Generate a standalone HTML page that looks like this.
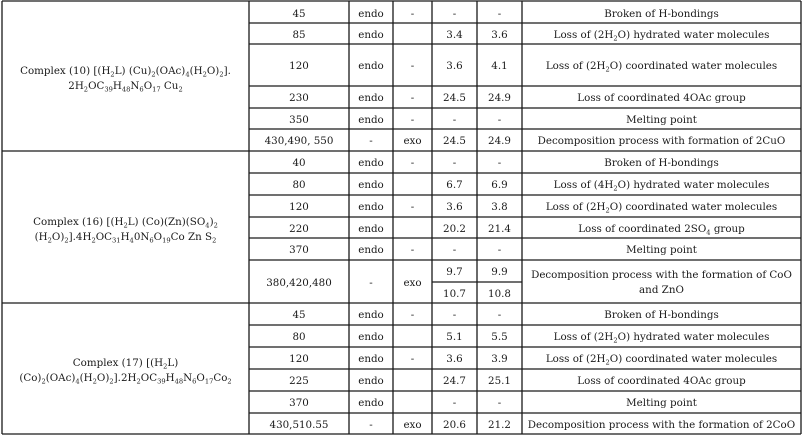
<!DOCTYPE html>
<html>
<head>
<meta charset="utf-8">
<style>
  html,body{margin:0;padding:0;background:#fff;}
  #wrap{position:relative;width:803px;height:438px;overflow:hidden;background:#fff;
    font-family:"DejaVu Serif","Liberation Serif",serif;font-size:10.3px;color:#1a1a1a;}
  .c{position:absolute;display:flex;align-items:center;justify-content:center;text-align:center;line-height:15px;white-space:nowrap;}
  .c > span{display:block;position:relative;top:1px;}
  sub{font-size:65%;vertical-align:-0.35em;line-height:0;}
  svg{position:absolute;left:0;top:0;}
</style>
</head>
<body>
<div id="wrap">
<svg width="803" height="438" viewBox="0 0 803 438">
  <g stroke="#1a1a1a" stroke-width="1.3" fill="none">
    <line x1="2" y1="1" x2="801" y2="1"/>
    <line x1="2" y1="434" x2="801" y2="434"/>
    <line x1="2" y1="1" x2="2" y2="434"/>
    <line x1="801" y1="1" x2="801" y2="434"/>
    <line x1="249" y1="1" x2="249" y2="434"/>
    <line x1="349" y1="1" x2="349" y2="434"/>
    <line x1="393" y1="1" x2="393" y2="434"/>
    <line x1="432" y1="1" x2="432" y2="434"/>
    <line x1="477" y1="1" x2="477" y2="434"/>
    <line x1="522" y1="1" x2="522" y2="434"/>
    <line x1="2" y1="151" x2="801" y2="151"/>
    <line x1="2" y1="303" x2="801" y2="303"/>
    <line x1="249" y1="23" x2="801" y2="23"/>
    <line x1="249" y1="44" x2="801" y2="44"/>
    <line x1="249" y1="86" x2="801" y2="86"/>
    <line x1="249" y1="108" x2="801" y2="108"/>
    <line x1="249" y1="129" x2="801" y2="129"/>
    <line x1="249" y1="173" x2="801" y2="173"/>
    <line x1="249" y1="195" x2="801" y2="195"/>
    <line x1="249" y1="217" x2="801" y2="217"/>
    <line x1="249" y1="238" x2="801" y2="238"/>
    <line x1="249" y1="260" x2="801" y2="260"/>
    <line x1="432" y1="282" x2="522" y2="282"/>
    <line x1="249" y1="325" x2="801" y2="325"/>
    <line x1="249" y1="347" x2="801" y2="347"/>
    <line x1="249" y1="369" x2="801" y2="369"/>
    <line x1="249" y1="391" x2="801" y2="391"/>
    <line x1="249" y1="413" x2="801" y2="413"/>
  </g>
</svg>

<!-- Column 1 -->
<div class="c" style="left:2px;top:1px;width:247px;height:154px;"><span>Complex (10) [(H<sub>2</sub>L) (Cu)<sub>2</sub>(OAc)<sub>4</sub>(H<sub>2</sub>O)<sub>2</sub>].<br>2H<sub>2</sub>OC<sub>39</sub>H<sub>48</sub>N<sub>6</sub>O<sub>17</sub> Cu<sub>2</sub></span></div>
<div class="c" style="left:2px;top:151px;width:247px;height:155px;"><span>Complex (16) [(H<sub>2</sub>L) (Co)(Zn)(SO<sub>4</sub>)<sub>2</sub><br>(H<sub>2</sub>O)<sub>2</sub>].4H<sub>2</sub>OC<sub>31</sub>H<sub>4</sub>0N<sub>6</sub>O<sub>19</sub>Co Zn S<sub>2</sub></span></div>
<div class="c" style="left:2px;top:303px;width:247px;height:134px;"><span>Complex (17) [(H<sub>2</sub>L)<br>(Co)<sub>2</sub>(OAc)<sub>4</sub>(H<sub>2</sub>O)<sub>2</sub>].2H<sub>2</sub>OC<sub>39</sub>H<sub>48</sub>N<sub>6</sub>O<sub>17</sub>Co<sub>2</sub></span></div>

<!-- Block 1 -->
<div class="c" style="left:249px;top:2px;width:100px;height:22px;"><span>45</span></div>
<div class="c" style="left:349px;top:2px;width:44px;height:22px;"><span>endo</span></div>
<div class="c" style="left:393px;top:2px;width:39px;height:22px;"><span>-</span></div>
<div class="c" style="left:432px;top:2px;width:45px;height:22px;"><span>-</span></div>
<div class="c" style="left:477px;top:2px;width:45px;height:22px;"><span>-</span></div>
<div class="c" style="left:522px;top:2px;width:279px;height:22px;"><span>Broken of H-bondings</span></div>

<div class="c" style="left:249px;top:23px;width:100px;height:22px;"><span>85</span></div>
<div class="c" style="left:349px;top:23px;width:44px;height:22px;"><span>endo</span></div>
<div class="c" style="left:432px;top:23px;width:45px;height:22px;"><span>3.4</span></div>
<div class="c" style="left:477px;top:23px;width:45px;height:22px;"><span>3.6</span></div>
<div class="c" style="left:522px;top:23px;width:279px;height:22px;"><span>Loss of (2H<sub>2</sub>O) hydrated water molecules</span></div>

<div class="c" style="left:249px;top:44px;width:100px;height:42px;"><span>120</span></div>
<div class="c" style="left:349px;top:44px;width:44px;height:42px;"><span>endo</span></div>
<div class="c" style="left:393px;top:44px;width:39px;height:42px;"><span>-</span></div>
<div class="c" style="left:432px;top:44px;width:45px;height:42px;"><span>3.6</span></div>
<div class="c" style="left:477px;top:44px;width:45px;height:42px;"><span>4.1</span></div>
<div class="c" style="left:522px;top:44px;width:279px;height:42px;"><span>Loss of (2H<sub>2</sub>O) coordinated water molecules</span></div>

<div class="c" style="left:249px;top:86px;width:100px;height:23px;"><span>230</span></div>
<div class="c" style="left:349px;top:86px;width:44px;height:23px;"><span>endo</span></div>
<div class="c" style="left:393px;top:86px;width:39px;height:23px;"><span>-</span></div>
<div class="c" style="left:432px;top:86px;width:45px;height:23px;"><span>24.5</span></div>
<div class="c" style="left:477px;top:86px;width:45px;height:23px;"><span>24.9</span></div>
<div class="c" style="left:522px;top:86px;width:279px;height:23px;"><span>Loss of coordinated 4OAc group</span></div>

<div class="c" style="left:249px;top:108px;width:100px;height:22px;"><span>350</span></div>
<div class="c" style="left:349px;top:108px;width:44px;height:22px;"><span>endo</span></div>
<div class="c" style="left:393px;top:108px;width:39px;height:22px;"><span>-</span></div>
<div class="c" style="left:432px;top:108px;width:45px;height:22px;"><span>-</span></div>
<div class="c" style="left:477px;top:108px;width:45px;height:22px;"><span>-</span></div>
<div class="c" style="left:522px;top:108px;width:279px;height:22px;"><span>Melting point</span></div>

<div class="c" style="left:249px;top:129px;width:100px;height:23px;"><span>430,490, 550</span></div>
<div class="c" style="left:349px;top:129px;width:44px;height:23px;"><span>-</span></div>
<div class="c" style="left:393px;top:129px;width:39px;height:23px;"><span>exo</span></div>
<div class="c" style="left:432px;top:129px;width:45px;height:23px;"><span>24.5</span></div>
<div class="c" style="left:477px;top:129px;width:45px;height:23px;"><span>24.9</span></div>
<div class="c" style="left:522px;top:129px;width:279px;height:23px;"><span>Decomposition process with formation of 2CuO</span></div>

<!-- Block 2 -->
<div class="c" style="left:249px;top:151px;width:100px;height:23px;"><span>40</span></div>
<div class="c" style="left:349px;top:151px;width:44px;height:23px;"><span>endo</span></div>
<div class="c" style="left:393px;top:151px;width:39px;height:23px;"><span>-</span></div>
<div class="c" style="left:432px;top:151px;width:45px;height:23px;"><span>-</span></div>
<div class="c" style="left:477px;top:151px;width:45px;height:23px;"><span>-</span></div>
<div class="c" style="left:522px;top:151px;width:279px;height:23px;"><span>Broken of H-bondings</span></div>

<div class="c" style="left:249px;top:173px;width:100px;height:23px;"><span>80</span></div>
<div class="c" style="left:349px;top:173px;width:44px;height:23px;"><span>endo</span></div>
<div class="c" style="left:432px;top:173px;width:45px;height:23px;"><span>6.7</span></div>
<div class="c" style="left:477px;top:173px;width:45px;height:23px;"><span>6.9</span></div>
<div class="c" style="left:522px;top:173px;width:279px;height:23px;"><span>Loss of (4H<sub>2</sub>O) hydrated water molecules</span></div>

<div class="c" style="left:249px;top:195px;width:100px;height:23px;"><span>120</span></div>
<div class="c" style="left:349px;top:195px;width:44px;height:23px;"><span>endo</span></div>
<div class="c" style="left:393px;top:195px;width:39px;height:23px;"><span>-</span></div>
<div class="c" style="left:432px;top:195px;width:45px;height:23px;"><span>3.6</span></div>
<div class="c" style="left:477px;top:195px;width:45px;height:23px;"><span>3.8</span></div>
<div class="c" style="left:522px;top:195px;width:279px;height:23px;"><span>Loss of (2H<sub>2</sub>O) coordinated water molecules</span></div>

<div class="c" style="left:249px;top:217px;width:100px;height:22px;"><span>220</span></div>
<div class="c" style="left:349px;top:217px;width:44px;height:22px;"><span>endo</span></div>
<div class="c" style="left:432px;top:217px;width:45px;height:22px;"><span>20.2</span></div>
<div class="c" style="left:477px;top:217px;width:45px;height:22px;"><span>21.4</span></div>
<div class="c" style="left:522px;top:217px;width:279px;height:22px;"><span>Loss of coordinated 2SO<sub>4</sub> group</span></div>

<div class="c" style="left:249px;top:238px;width:100px;height:23px;"><span>370</span></div>
<div class="c" style="left:349px;top:238px;width:44px;height:23px;"><span>endo</span></div>
<div class="c" style="left:393px;top:238px;width:39px;height:23px;"><span>-</span></div>
<div class="c" style="left:432px;top:238px;width:45px;height:23px;"><span>-</span></div>
<div class="c" style="left:477px;top:238px;width:45px;height:23px;"><span>-</span></div>
<div class="c" style="left:522px;top:238px;width:279px;height:23px;"><span>Melting point</span></div>

<div class="c" style="left:249px;top:260px;width:100px;height:44px;"><span>380,420,480</span></div>
<div class="c" style="left:349px;top:260px;width:44px;height:44px;"><span>-</span></div>
<div class="c" style="left:393px;top:260px;width:39px;height:44px;"><span>exo</span></div>
<div class="c" style="left:432px;top:260px;width:45px;height:23px;"><span>9.7</span></div>
<div class="c" style="left:477px;top:260px;width:45px;height:23px;"><span>9.9</span></div>
<div class="c" style="left:432px;top:282px;width:45px;height:22px;"><span>10.7</span></div>
<div class="c" style="left:477px;top:282px;width:45px;height:22px;"><span>10.8</span></div>
<div class="c" style="left:522px;top:260px;width:279px;height:44px;"><span>Decomposition process with the formation of CoO<br>and ZnO</span></div>

<!-- Block 3 -->
<div class="c" style="left:249px;top:303px;width:100px;height:23px;"><span>45</span></div>
<div class="c" style="left:349px;top:303px;width:44px;height:23px;"><span>endo</span></div>
<div class="c" style="left:393px;top:303px;width:39px;height:23px;"><span>-</span></div>
<div class="c" style="left:432px;top:303px;width:45px;height:23px;"><span>-</span></div>
<div class="c" style="left:477px;top:303px;width:45px;height:23px;"><span>-</span></div>
<div class="c" style="left:522px;top:303px;width:279px;height:23px;"><span>Broken of H-bondings</span></div>

<div class="c" style="left:249px;top:325px;width:100px;height:23px;"><span>80</span></div>
<div class="c" style="left:349px;top:325px;width:44px;height:23px;"><span>endo</span></div>
<div class="c" style="left:432px;top:325px;width:45px;height:23px;"><span>5.1</span></div>
<div class="c" style="left:477px;top:325px;width:45px;height:23px;"><span>5.5</span></div>
<div class="c" style="left:522px;top:325px;width:279px;height:23px;"><span>Loss of (2H<sub>2</sub>O) hydrated water molecules</span></div>

<div class="c" style="left:249px;top:347px;width:100px;height:23px;"><span>120</span></div>
<div class="c" style="left:349px;top:347px;width:44px;height:23px;"><span>endo</span></div>
<div class="c" style="left:393px;top:347px;width:39px;height:23px;"><span>-</span></div>
<div class="c" style="left:432px;top:347px;width:45px;height:23px;"><span>3.6</span></div>
<div class="c" style="left:477px;top:347px;width:45px;height:23px;"><span>3.9</span></div>
<div class="c" style="left:522px;top:347px;width:279px;height:23px;"><span>Loss of (2H<sub>2</sub>O) coordinated water molecules</span></div>

<div class="c" style="left:249px;top:369px;width:100px;height:23px;"><span>225</span></div>
<div class="c" style="left:349px;top:369px;width:44px;height:23px;"><span>endo</span></div>
<div class="c" style="left:432px;top:369px;width:45px;height:23px;"><span>24.7</span></div>
<div class="c" style="left:477px;top:369px;width:45px;height:23px;"><span>25.1</span></div>
<div class="c" style="left:522px;top:369px;width:279px;height:23px;"><span>Loss of coordinated 4OAc group</span></div>

<div class="c" style="left:249px;top:391px;width:100px;height:23px;"><span>370</span></div>
<div class="c" style="left:349px;top:391px;width:44px;height:23px;"><span>endo</span></div>
<div class="c" style="left:432px;top:391px;width:45px;height:23px;"><span>-</span></div>
<div class="c" style="left:477px;top:391px;width:45px;height:23px;"><span>-</span></div>
<div class="c" style="left:522px;top:391px;width:279px;height:23px;"><span>Melting point</span></div>

<div class="c" style="left:249px;top:413px;width:100px;height:22px;"><span>430,510.55</span></div>
<div class="c" style="left:349px;top:413px;width:44px;height:22px;"><span>-</span></div>
<div class="c" style="left:393px;top:413px;width:39px;height:22px;"><span>exo</span></div>
<div class="c" style="left:432px;top:413px;width:45px;height:22px;"><span>20.6</span></div>
<div class="c" style="left:477px;top:413px;width:45px;height:22px;"><span>21.2</span></div>
<div class="c" style="left:522px;top:413px;width:279px;height:22px;"><span>Decomposition process with the formation of 2CoO</span></div>
</div>
</body>
</html>
